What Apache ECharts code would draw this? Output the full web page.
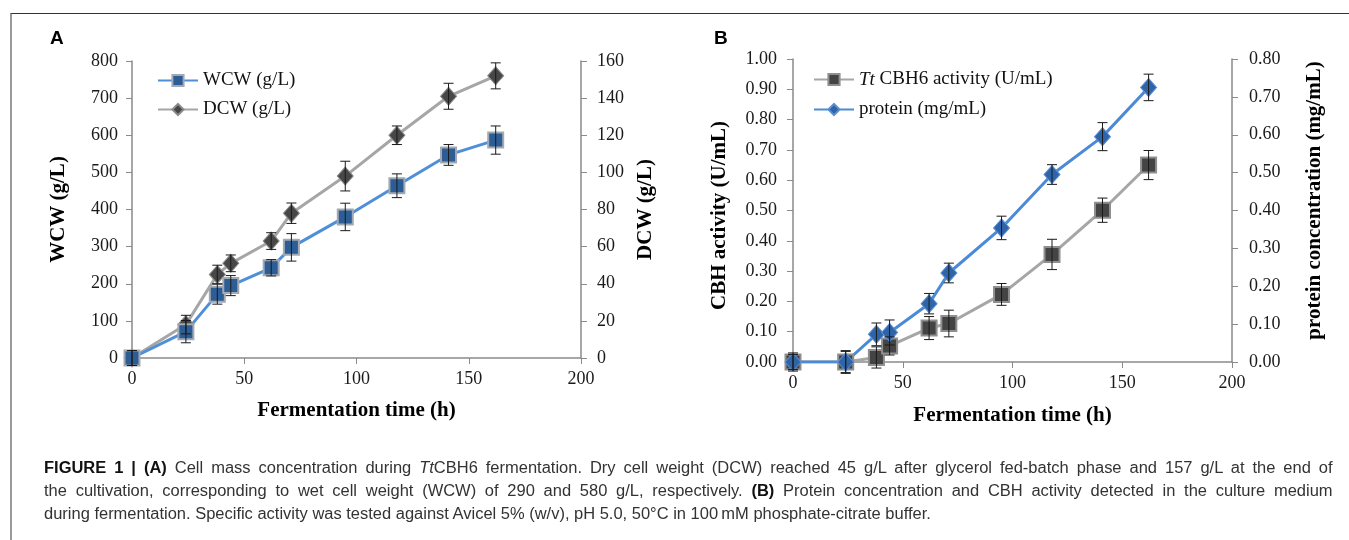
<!DOCTYPE html>
<html>
<head>
<meta charset="utf-8">
<script src="https://cdn.jsdelivr.net/npm/echarts@6/dist/echarts.min.js"></script>
<style>
  body { margin: 0; background: #fff; }
  #chart { position: absolute; left: 0; top: 0; width: 1349px; height: 540px; }
  #frame { position: absolute; left: 10px; top: 13px; right: 0; bottom: 0;
           border-top: 1.5px solid #333; border-left: 2px solid #9a9a9a; pointer-events: none; }
  #caption { position: absolute; left: 44px; top: 456px; font-family: "Liberation Sans", Arial, sans-serif;
             font-size: 16px; line-height: 23px; color: #333; }
  #caption .ln { width: 1251px; transform: scaleX(1.03); transform-origin: 0 0; height: 23px; }
  #caption .j { text-align: justify; text-align-last: justify; }
  #caption b { color: #111; }
</style>
</head>
<body>
<div id="chart"></div>
<div id="frame"></div>
<div id="caption">
  <div class="ln j"><b>FIGURE 1 | (A)</b> Cell mass concentration during <i>Tt</i>CBH6 fermentation. Dry cell weight (DCW) reached 45 g/L after glycerol fed-batch phase and 157 g/L at the end of</div>
  <div class="ln j">the cultivation, corresponding to wet cell weight (WCW) of 290 and 580 g/L, respectively. <b>(B)</b> Protein concentration and CBH activity detected in the culture medium</div>
  <div class="ln">during fermentation. Specific activity was tested against Avicel 5% (w/v), pH 5.0, 50°C in 100&#8201;mM phosphate-citrate buffer.</div>
</div>
<script>
// sampling times (h), shared by both panels
var times = [0, 24, 38, 44, 62, 71, 95, 118, 141, 162]

// panel A
var wcw = [0, 71, 172, 195, 243, 298, 380, 464, 547, 587]
var wcwErr = [20, 30, 27, 27, 22, 37, 37, 32, 28, 38]
var dcw = [0, 18, 45, 51, 63, 78, 98, 120, 141, 152]
var dcwErr = [4, 5, 5, 4.5, 4.5, 5.5, 8, 5, 7, 7]

// panel B
var cbh = [0, 0, 0.015, 0.053, 0.112, 0.127, 0.223, 0.355, 0.501, 0.65]
var cbhErr = [0.03, 0.035, 0.035, 0.03, 0.038, 0.044, 0.036, 0.05, 0.04, 0.048]
var protein = [0, 0, 0.073, 0.078, 0.154, 0.235, 0.354, 0.495, 0.595, 0.725]
var proteinErr = [0.02, 0.03, 0.03, 0.033, 0.027, 0.026, 0.031, 0.026, 0.037, 0.035]

var serif = '"Liberation Serif", "Times New Roman", serif'
var axisGray = '#8a8a8a'

function pairs(vals) {
  return times.map(function(t, i) { return [t, vals[i]] })
}
function errData(vals, errs) {
  return times.map(function(t, i) { return [t, vals[i] - errs[i], vals[i] + errs[i]] })
}
function errBars(xi, yi, vals, errs) {
  return {
    type: 'custom',
    xAxisIndex: xi,
    yAxisIndex: yi,
    z: 5,
    silent: true,
    encode: { x: 0, y: [1, 2] },
    data: errData(vals, errs),
    renderItem: function(params, api) {
      var top = api.coord([api.value(0), api.value(2)])
      var bot = api.coord([api.value(0), api.value(1)])
      var w = 5
      var st = { stroke: '#1a1a1a', lineWidth: 1 }
      return {
        type: 'group',
        children: [
          { type: 'line', shape: { x1: top[0], y1: top[1], x2: bot[0], y2: bot[1] }, style: st },
          { type: 'line', shape: { x1: top[0] - w, y1: top[1], x2: top[0] + w, y2: top[1] }, style: st },
          { type: 'line', shape: { x1: bot[0] - w, y1: bot[1], x2: bot[0] + w, y2: bot[1] }, style: st }
        ]
      }
    }
  }
}

function xAx(grid, gap) {
  return {
    gridIndex: grid,
    type: 'value',
    min: 0,
    max: 200,
    interval: 50,
    name: 'Fermentation time (h)',
    nameLocation: 'middle',
    nameGap: gap,
    nameTextStyle: { fontFamily: serif, fontSize: 21, fontWeight: 'bold', color: '#000' },
    axisLine: { show: true, onZero: false, lineStyle: { color: axisGray, width: 1.5 } },
    axisTick: { show: true, inside: false, length: 6, lineStyle: { color: axisGray } },
    axisLabel: { margin: 12, fontFamily: serif, fontSize: 18, color: '#1a1a1a' },
    splitLine: { show: false }
  }
}

function yAx(grid, pos, max, step, digits, name, gap, margin, namePad) {
  return {
    gridIndex: grid,
    type: 'value',
    position: pos,
    min: 0,
    max: max,
    interval: step,
    name: name,
    nameLocation: 'middle',
    nameGap: gap,
    nameRotate: 90,
    nameTextStyle: { fontFamily: serif, fontSize: 21, fontWeight: 'bold', color: '#000', padding: namePad || 0 },
    axisLine: { show: true, lineStyle: { color: axisGray, width: 1.5 } },
    axisTick: { show: true, inside: false, length: 6, lineStyle: { color: axisGray } },
    axisLabel: {
      margin: margin,
      fontFamily: serif,
      fontSize: 18,
      color: '#1a1a1a',
      formatter: function(v) { return v.toFixed(digits) }
    },
    splitLine: { show: false }
  }
}

var legendText = {
  fontFamily: serif,
  fontSize: 19,
  color: '#111',
  rich: {
    i: { fontFamily: serif, fontSize: 19, fontStyle: 'italic', color: '#111' }
  }
}

var chart = echarts.init(document.getElementById('chart'), null, { renderer: 'canvas' })
chart.setOption({
  animation: false,
  backgroundColor: 'transparent',
  grid: [
    { left: 132, top: 61, width: 449, height: 297, outerBoundsMode: 'none' },
    { left: 793, top: 59, width: 439, height: 303, outerBoundsMode: 'none' }
  ],
  xAxis: [xAx(0, 42), xAx(1, 43)],
  yAxis: [
    yAx(0, 'left', 800, 100, 0, 'WCW (g/L)', 63, 14),
    yAx(0, 'right', 160, 20, 0, 'DCW (g/L)', 54, 16),
    yAx(1, 'left', 1, 0.1, 2, 'CBH activity (U/mL)', 63, 16, [0, 10, 0, 0]),
    yAx(1, 'right', 0.8, 0.1, 2, 'protein concentration (mg/mL)', 72, 17, [0, 0, 0, 20])
  ],
  legend: [
    {
      data: ['WCW (g/L)', 'DCW (g/L)'],
      orient: 'vertical',
      left: 157,
      top: 71,
      padding: 0,
      itemWidth: 40,
      itemHeight: 14,
      itemGap: 10,
      textStyle: legendText
    },
    {
      data: ['TtCBH6 activity (U/mL)', 'protein (mg/mL)'],
      orient: 'vertical',
      left: 813,
      top: 70,
      padding: 0,
      itemWidth: 40,
      itemHeight: 14,
      itemGap: 11,
      formatter: function(n) {
        return n.indexOf('Tt') === 0 ? '{i|Tt} ' + n.slice(2) : n
      },
      textStyle: legendText
    }
  ],
  graphic: [
    { type: 'text', left: 50, top: 29, style: { text: 'A', font: 'bold 19px "Liberation Sans", Arial, sans-serif', fill: '#000' } },
    { type: 'text', left: 714, top: 29, style: { text: 'B', font: 'bold 19px "Liberation Sans", Arial, sans-serif', fill: '#000' } }
  ],
  series: [
    {
      name: 'DCW (g/L)',
      type: 'line',
      xAxisIndex: 0,
      yAxisIndex: 1,
      data: pairs(dcw),
      symbol: 'diamond',
      symbolSize: [16, 18],
      lineStyle: { color: '#a6a6a6', width: 3 },
      itemStyle: { color: '#474747', borderColor: '#8c8c8c', borderWidth: 1 }
    },
    {
      name: 'WCW (g/L)',
      type: 'line',
      xAxisIndex: 0,
      yAxisIndex: 0,
      data: pairs(wcw),
      symbol: 'rect',
      symbolSize: 15,
      lineStyle: { color: '#4f8fd8', width: 3 },
      itemStyle: { color: '#2d5d95', borderColor: '#a3a9b2', borderWidth: 2 }
    },
    {
      name: 'TtCBH6 activity (U/mL)',
      type: 'line',
      xAxisIndex: 1,
      yAxisIndex: 2,
      data: pairs(cbh),
      symbol: 'rect',
      symbolSize: 15,
      lineStyle: { color: '#a6a6a6', width: 3 },
      itemStyle: { color: '#444444', borderColor: '#8f8f8f', borderWidth: 2 }
    },
    {
      name: 'protein (mg/mL)',
      type: 'line',
      xAxisIndex: 1,
      yAxisIndex: 3,
      data: pairs(protein),
      symbol: 'diamond',
      symbolSize: [16, 18],
      lineStyle: { color: '#4a8ad6', width: 3 },
      itemStyle: { color: '#2f64a8', borderColor: '#5b8fd0', borderWidth: 1 }
    },
    errBars(0, 1, dcw, dcwErr),
    errBars(0, 0, wcw, wcwErr),
    errBars(1, 2, cbh, cbhErr),
    errBars(1, 3, protein, proteinErr)
  ]
})
</script>
</body>
</html>
